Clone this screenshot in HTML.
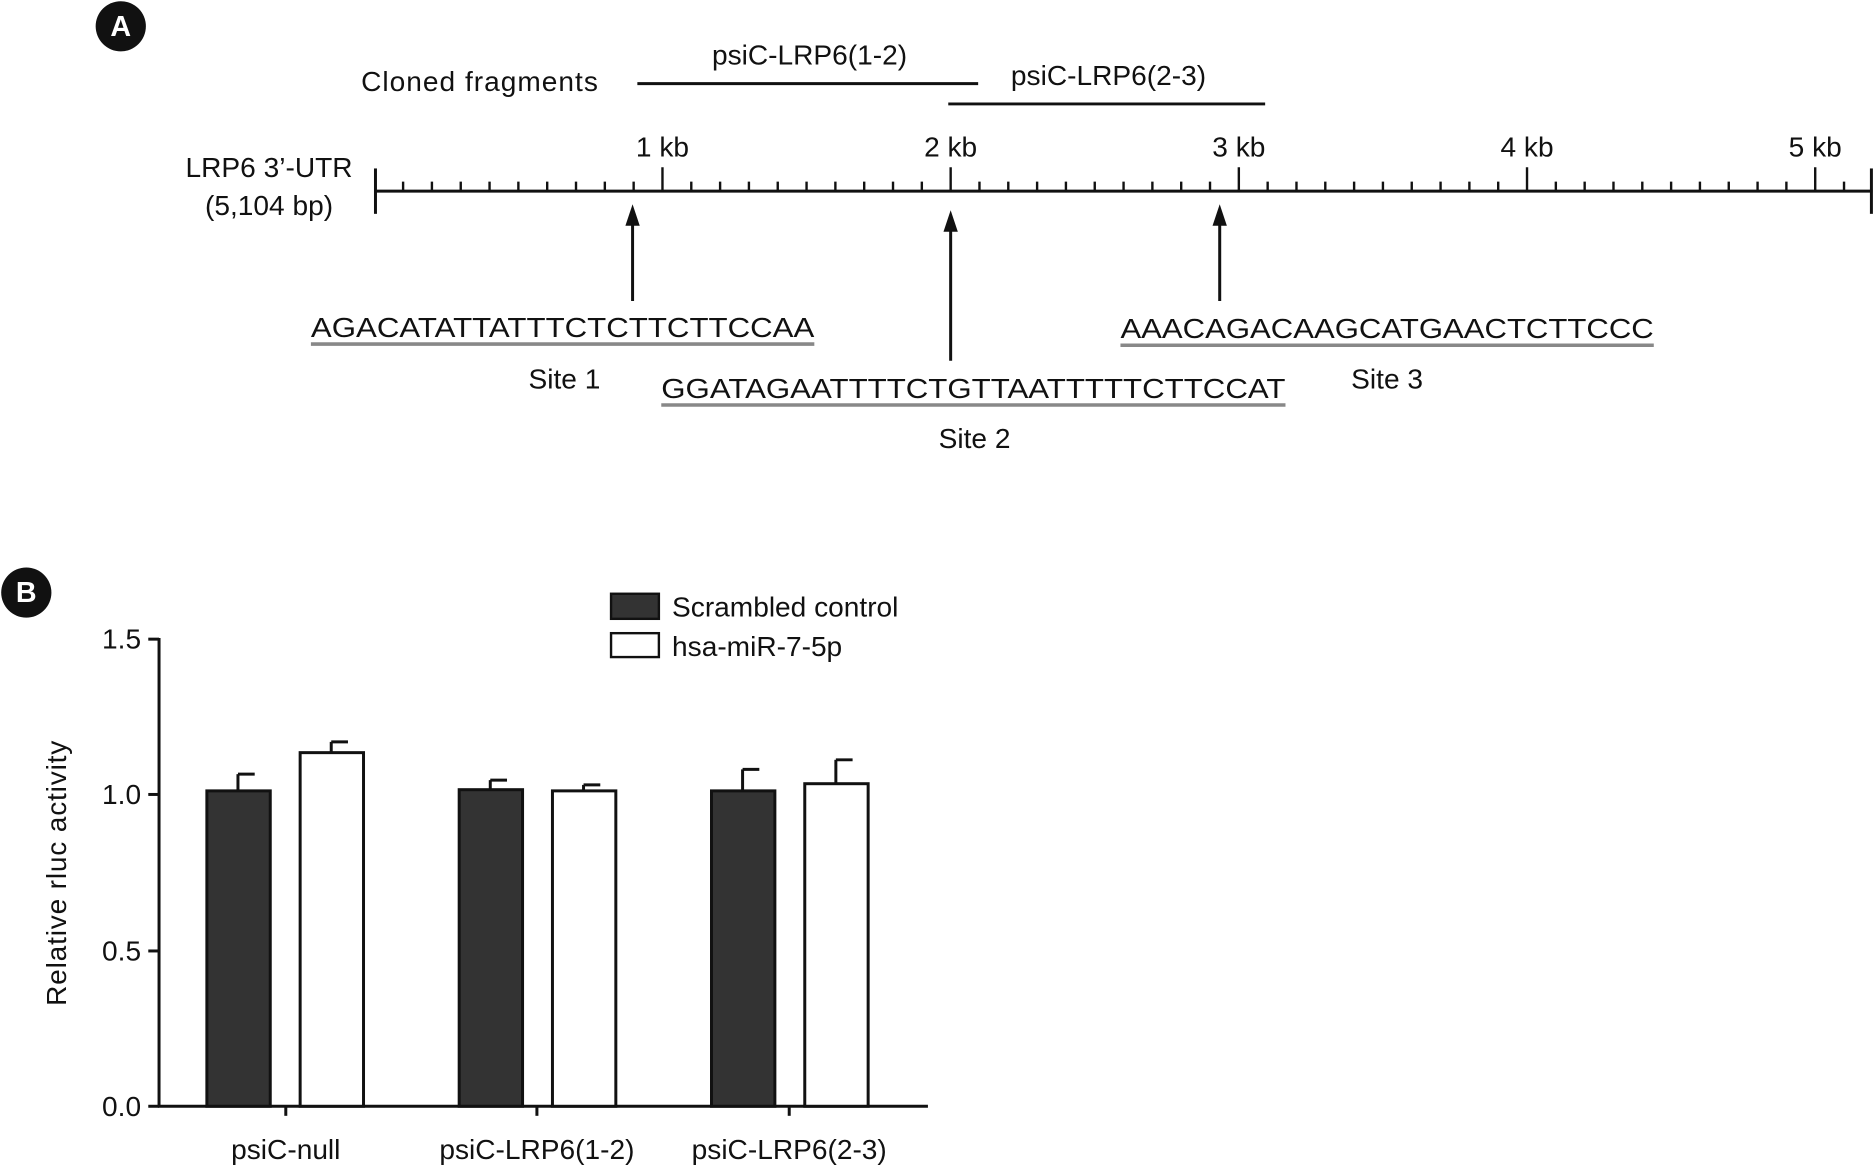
<!DOCTYPE html>
<html><head><meta charset="utf-8"><style>
html,body{margin:0;padding:0;background:#fff;}
svg{display:block;}
text{font-family:"Liberation Sans",Arial,sans-serif;fill:#111;}
</style></head><body>
<svg width="1875" height="1166" viewBox="0 0 1568 976" preserveAspectRatio="none" xmlns="http://www.w3.org/2000/svg">
<!-- Panel A -->
<circle cx="101" cy="22" r="21" fill="#111"/><text x="101" y="30" font-size="24" font-weight="bold" text-anchor="middle" style="fill:#fff">A</text>
<text x="302" y="76" font-size="23.5" textLength="198">Cloned fragments</text>
<line x1="533" y1="70" x2="818" y2="70" stroke="#111" stroke-width="2.5"/>
<text x="677" y="54" font-size="23.5" text-anchor="middle">psiC-LRP6(1-2)</text>
<line x1="793" y1="87" x2="1058" y2="87" stroke="#111" stroke-width="2.5"/>
<text x="927" y="71" font-size="23.5" text-anchor="middle">psiC-LRP6(2-3)</text>
<text x="225" y="148" font-size="23.5" text-anchor="middle">LRP6 3’-UTR</text>
<text x="225" y="180" font-size="23.5" text-anchor="middle">(5,104 bp)</text>
<line x1="313" y1="160" x2="1566" y2="160" stroke="#111" stroke-width="2.5"/>
<line x1="314" y1="141" x2="314" y2="179" stroke="#111" stroke-width="2.5"/>
<line x1="1565" y1="141" x2="1565" y2="179" stroke="#111" stroke-width="2.5"/>
<text x="554" y="131" font-size="23.5" text-anchor="middle">1 kb</text>
<text x="795" y="131" font-size="23.5" text-anchor="middle">2 kb</text>
<text x="1036" y="131" font-size="23.5" text-anchor="middle">3 kb</text>
<text x="1277" y="131" font-size="23.5" text-anchor="middle">4 kb</text>
<text x="1518" y="131" font-size="23.5" text-anchor="middle">5 kb</text>
<g stroke="#111" stroke-width="2.5">
<line x1="529" y1="252" x2="529" y2="185"/>
<line x1="795" y1="302" x2="795" y2="190"/>
<line x1="1020" y1="252" x2="1020" y2="185"/>
</g>
<g fill="#111">
<polygon points="529,171 523,189 535,189"/>
<polygon points="795,176 789,194 801,194"/>
<polygon points="1020,171 1014,189 1026,189"/>
</g>
<text x="260" y="282" font-size="23.5" textLength="421" lengthAdjust="spacingAndGlyphs">AGACATATTATTTCTCTTCTTCCAA</text>
<line x1="260" y1="288" x2="681" y2="288" stroke="#888" stroke-width="3"/>
<text x="472" y="325" font-size="23.5" text-anchor="middle">Site 1</text>
<text x="553" y="333" font-size="23.5" textLength="522" lengthAdjust="spacingAndGlyphs">GGATAGAATTTTCTGTTAATTTTTCTTCCAT</text>
<line x1="553" y1="339" x2="1075" y2="339" stroke="#888" stroke-width="3"/>
<text x="815" y="375" font-size="23.5" text-anchor="middle">Site 2</text>
<text x="937" y="283" font-size="23.5" textLength="446" lengthAdjust="spacingAndGlyphs">AAACAGACAAGCATGAACTCTTCCC</text>
<line x1="937" y1="289" x2="1383" y2="289" stroke="#888" stroke-width="3"/>
<text x="1160" y="325" font-size="23.5" text-anchor="middle">Site 3</text>
<g stroke="#111" stroke-width="2">
<path d="M337.1,152V160M361.2,152V160M385.3,152V160M409.4,152V160M433.5,152V160M457.6,152V160M481.7,152V160M505.8,152V160M529.9,152V160
M578.1,152V160M602.2,152V160M626.3,152V160M650.4,152V160M674.5,152V160M698.6,152V160M722.7,152V160M746.8,152V160M770.9,152V160
M819.1,152V160M843.2,152V160M867.3,152V160M891.4,152V160M915.5,152V160M939.6,152V160M963.7,152V160M987.8,152V160M1011.9,152V160
M1060.1,152V160M1084.2,152V160M1108.3,152V160M1132.4,152V160M1156.5,152V160M1180.6,152V160M1204.7,152V160M1228.8,152V160M1252.9,152V160
M1301.1,152V160M1325.2,152V160M1349.3,152V160M1373.4,152V160M1397.5,152V160M1421.6,152V160M1445.7,152V160M1469.8,152V160M1493.9,152V160
M1542.1,152V160
M554,140V160M795,140V160M1036,140V160M1277,140V160M1518,140V160" fill="none"/>
</g>
<!-- Panel B -->
<circle cx="22" cy="496" r="21" fill="#111"/><text x="22" y="504" font-size="24" font-weight="bold" text-anchor="middle" style="fill:#fff">B</text>
<rect x="511" y="497" width="40" height="21" fill="#333" stroke="#111" stroke-width="2"/>
<text x="562" y="516" font-size="23.5">Scrambled control</text>
<rect x="511" y="530" width="40" height="20" fill="#fff" stroke="#111" stroke-width="2"/>
<text x="562" y="549" font-size="23.5">hsa-miR-7-5p</text>
<line x1="133" y1="534" x2="133" y2="927" stroke="#111" stroke-width="2.5"/>
<line x1="132" y1="926" x2="776" y2="926" stroke="#111" stroke-width="2.5"/>
<g stroke="#111" stroke-width="2.5">
<line x1="124" y1="535" x2="133" y2="535"/><line x1="124" y1="665" x2="133" y2="665"/><line x1="124" y1="796" x2="133" y2="796"/><line x1="124" y1="926" x2="133" y2="926"/>
<line x1="239" y1="926" x2="239" y2="934"/><line x1="449" y1="926" x2="449" y2="934"/><line x1="660" y1="926" x2="660" y2="934"/>
</g>
<text x="118" y="543" font-size="23.5" text-anchor="end">1.5</text>
<text x="118" y="673" font-size="23.5" text-anchor="end">1.0</text>
<text x="118" y="804" font-size="23.5" text-anchor="end">0.5</text>
<text x="118" y="934" font-size="23.5" text-anchor="end">0.0</text>
<text transform="translate(55,731) rotate(-90)" font-size="23.5" text-anchor="middle" textLength="222">Relative rluc activity</text>
<g stroke="#111" stroke-width="2.5">
<line x1="199" y1="662" x2="199" y2="648"/><line x1="199" y1="648" x2="213" y2="648"/>
<line x1="277" y1="630" x2="277" y2="621"/><line x1="277" y1="621" x2="291" y2="621"/>
<line x1="410" y1="661" x2="410" y2="653"/><line x1="410" y1="653" x2="424" y2="653"/>
<line x1="488" y1="662" x2="488" y2="657"/><line x1="488" y1="657" x2="502" y2="657"/>
<line x1="621" y1="662" x2="621" y2="644"/><line x1="621" y1="644" x2="635" y2="644"/>
<line x1="699" y1="656" x2="699" y2="636"/><line x1="699" y1="636" x2="713" y2="636"/>
</g>
<g stroke="#111" stroke-width="2.5">
<rect x="173" y="662" width="53" height="264" fill="#333"/>
<rect x="251" y="630" width="53" height="296" fill="#fff"/>
<rect x="384" y="661" width="53" height="265" fill="#333"/>
<rect x="462" y="662" width="53" height="264" fill="#fff"/>
<rect x="595" y="662" width="53" height="264" fill="#333"/>
<rect x="673" y="656" width="53" height="270" fill="#fff"/>
</g>
<text x="239" y="970" font-size="23.5" text-anchor="middle">psiC-null</text>
<text x="449" y="970" font-size="23.5" text-anchor="middle">psiC-LRP6(1-2)</text>
<text x="660" y="970" font-size="23.5" text-anchor="middle">psiC-LRP6(2-3)</text>
</svg>
</body></html>
